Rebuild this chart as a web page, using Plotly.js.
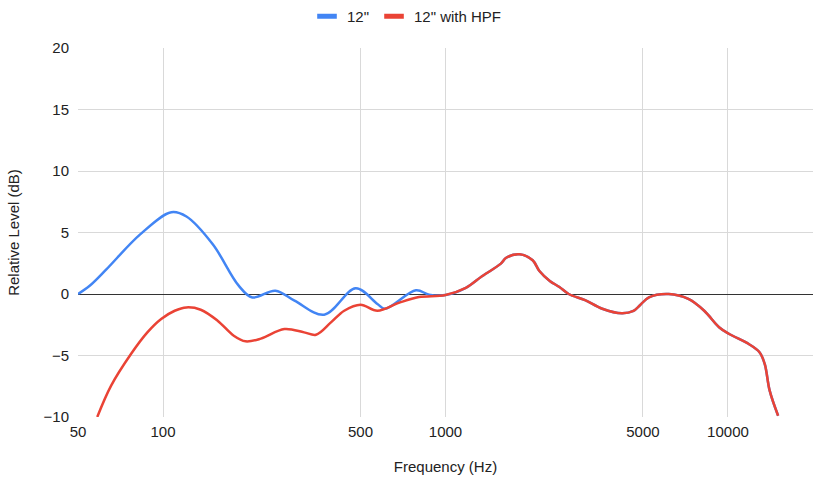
<!DOCTYPE html>
<html>
<head>
<meta charset="utf-8">
<script src="https://cdn.plot.ly/plotly-3.0.1.min.js"></script>
<style>
  html, body { margin: 0; padding: 0; background: #fff; }
  #chart { width: 814px; height: 485px; }
</style>
</head>
<body>
<div id="chart"></div>
<script>
// Frequency (Hz) and relative level (dB)
const freqBlue = [50, 55, 63, 83, 107, 121, 150, 185, 207, 250, 292, 372, 481, 574, 610, 786, 875, 1000,
  1180, 1350, 1570, 1640, 1830, 2035, 2150, 2340, 2530, 2730, 3120, 3590, 4210, 4630, 4860, 5250, 6170,
  7240, 8240, 9300, 10100, 11850, 12950, 13500, 14050, 15050];
const levelBlue = [0, 0.67, 2.0, 4.85, 6.65, 6.3, 4.04, 0.7, -0.28, 0.27, -0.54, -1.68, 0.46, -0.81, -1.2, 0.3, -0.05, -0.08,
  0.5, 1.46, 2.47, 2.95, 3.23, 2.74, 1.87, 1.06, 0.57, 0, -0.5, -1.2, -1.57, -1.38, -0.95, -0.27, 0,
  -0.4, -1.36, -2.7, -3.25, -4.07, -4.75, -5.7, -7.86, -9.9];

const freqRed = [58.5, 65.5, 77, 88, 98.5, 110, 121, 136, 156, 178, 196, 222, 269, 316, 348, 393, 438, 500, 574,
  687, 805, 1000, 1180, 1350, 1570, 1640, 1830, 2035, 2150, 2340, 2530, 2730, 3120, 3590, 4210, 4630, 4860,
  5250, 6170, 7240, 8240, 9300, 10100, 11850, 12950, 13500, 14050, 15050];
const levelRed = [-10, -7.45, -4.88, -3.12, -2.03, -1.36, -1.09, -1.28, -2.17, -3.39, -3.85, -3.63, -2.85, -3.12, -3.31, -2.31, -1.36, -0.87, -1.36,
  -0.7, -0.25, -0.08, 0.5, 1.46, 2.47, 2.95, 3.23, 2.74, 1.87, 1.06, 0.57, 0, -0.5, -1.2, -1.57, -1.38, -0.95,
  -0.27, 0, -0.4, -1.36, -2.7, -3.25, -4.07, -4.75, -5.7, -7.86, -9.9];

const seriesNames = ['12"', '12" with HPF'];
const seriesColors = ['#4285F4', '#EA4335'];
const xTickVals = [50, 100, 500, 1000, 5000, 10000];
const xTickText = ['50', '100', '500', '1000', '5000', '10000'];
const yTickVals = [-10, -5, 0, 5, 10, 15, 20];

const FONT = '"Liberation Sans", Arial, Helvetica, sans-serif';

const traces = [
  { x: freqBlue, y: levelBlue, name: seriesNames[0], mode: 'lines', showlegend: false,
    line: { color: seriesColors[0], width: 2.5, shape: 'spline', smoothing: 1 }, hoverinfo: 'x+y' },
  { x: freqRed, y: levelRed, name: seriesNames[1], mode: 'lines', showlegend: false,
    line: { color: seriesColors[1], width: 2.5, shape: 'spline', smoothing: 1 }, hoverinfo: 'x+y' },
  // legend entries
  { x: [null], y: [null], name: seriesNames[0], mode: 'markers',
    marker: { color: seriesColors[0], symbol: 'line-ew', size: 14, line: { color: seriesColors[0], width: 7 } } },
  { x: [null], y: [null], name: seriesNames[1], mode: 'markers',
    marker: { color: seriesColors[1], symbol: 'line-ew', size: 14, line: { color: seriesColors[1], width: 7 } } }
];

const layout = {
  width: 814, height: 485,
  margin: { l: 78, r: 1, t: 48, b: 68, pad: 0 },
  paper_bgcolor: '#ffffff', plot_bgcolor: '#ffffff',
  font: { family: FONT, size: 15, color: '#222222' },
  showlegend: true,
  legend: {
    orientation: 'h', xref: 'container', yref: 'container',
    x: 0.5, xanchor: 'center', y: 1, yanchor: 'top',
    font: { family: FONT, size: 15, color: '#222222' },
    itemwidth: 30, bgcolor: 'rgba(0,0,0,0)'
  },
  xaxis: {
    type: 'log',
    range: [Math.log10(50), Math.log10(20000)],
    tickvals: xTickVals, ticktext: xTickText,
    showgrid: true, gridcolor: '#d9d9d9', gridwidth: 1,
    zeroline: false, showline: false, ticks: '',
    ticklabelstandoff: 4,
    tickfont: { family: FONT, size: 15, color: '#222222' },
    title: { text: 'Frequency (Hz)', font: { family: FONT, size: 15, color: '#222222' }, standoff: 22 },
    automargin: false, fixedrange: true
  },
  yaxis: {
    range: [-10, 20],
    tickvals: yTickVals,
    showgrid: true, gridcolor: '#d9d9d9', gridwidth: 1,
    zeroline: true, zerolinecolor: '#333333', zerolinewidth: 1.2,
    showline: false, ticks: '',
    ticklabelstandoff: 8,
    tickfont: { family: FONT, size: 15, color: '#222222' },
    title: { text: 'Relative Level (dB)', font: { family: FONT, size: 15, color: '#222222' }, standoff: 20 },
    automargin: false, fixedrange: true
  }
};

Plotly.newPlot('chart', traces, layout, { displayModeBar: false });
</script>
</body>
</html>
